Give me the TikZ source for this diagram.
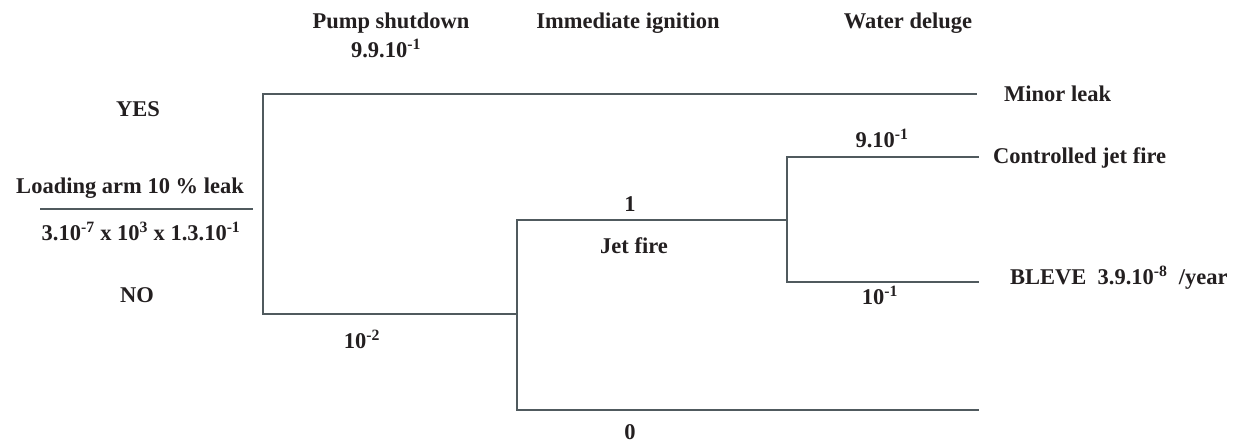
\documentclass[tikz,border=0pt]{standalone}
\usepackage{fontspec}
\setmainfont{Liberation Serif}
\definecolor{linec}{RGB}{80,90,94}
\definecolor{textc}{RGB}{35,31,32}
\newcommand{\supx}[1]{\textsuperscript{#1}}
\begin{document}
\begin{tikzpicture}[x=1pt,y=-1pt,
  branch/.style={draw=linec,line width=2.8pt,line cap=rect,line join=miter},
  lbl/.style={inner sep=0pt,anchor=base,text=textc,font=\fontsize{22.5}{27}\selectfont\bfseries},
  lblw/.style={lbl,anchor=base west}]
\useasboundingbox (0,0) rectangle (1246,444);
% coordinates
\coordinate (r) at (263,94);
\coordinate (rn) at (263,314);
\coordinate (top) at (976,94);
\coordinate (s) at (517,314);
\coordinate (st) at (517,220);
\coordinate (sb) at (517,410);
\coordinate (bot) at (978,410);
\coordinate (w) at (787,220);
\coordinate (wt) at (787,157);
\coordinate (wb) at (787,282);
\coordinate (cj) at (978,157);
\coordinate (bl) at (978,282);
\coordinate (fl) at (41,209);
\coordinate (fr) at (252,209);
% branches
\draw[branch] (top) -- (r) -- (rn) -- (s);
\draw[branch] (w) -- (st) -- (sb) -- (bot);
\draw[branch] (cj) -- (wt) -- (wb) -- (bl);
\draw[branch] (fl) -- (fr);
% titles
\node[lbl] (t1) at (391,29) {Pump shutdown};
\node[lbl] (t2) at (628,29) {Immediate ignition};
\node[lbl] (t3) at (908,29) {Water deluge};
% labels
\node[lbl] (p1) at (386,57) {9.9.10\supx{-1}};
\node[lblw] (o1) at (1004,101) {Minor leak};
\node[lbl] (yes) at (138,116) {YES};
\node[lbl] (ini) at (130,193) {Loading arm 10 \% leak};
\node[lbl] (fr1) at (141,240) {3.10\supx{-7} x 10\supx{3} x 1.3.10\supx{-1}};
\node[lbl] (no) at (137,302) {NO};
\node[lbl] (p2) at (362,348) {10\supx{-2}};
\node[lbl] (p3) at (630,211) {1};
\node[lbl] (jf) at (634,253) {Jet fire};
\node[lbl] (p4) at (882,147) {9.10\supx{-1}};
\node[lblw] (o2) at (993,163) {Controlled jet fire};
\node[lblw] (o3) at (1010,284) {BLEVE\ \ 3.9.10\supx{-8}\ \ /year};
\node[lbl] (p5) at (880,304) {10\supx{-1}};
\node[lbl] (p6) at (630,439) {0};
\end{tikzpicture}
\end{document}
